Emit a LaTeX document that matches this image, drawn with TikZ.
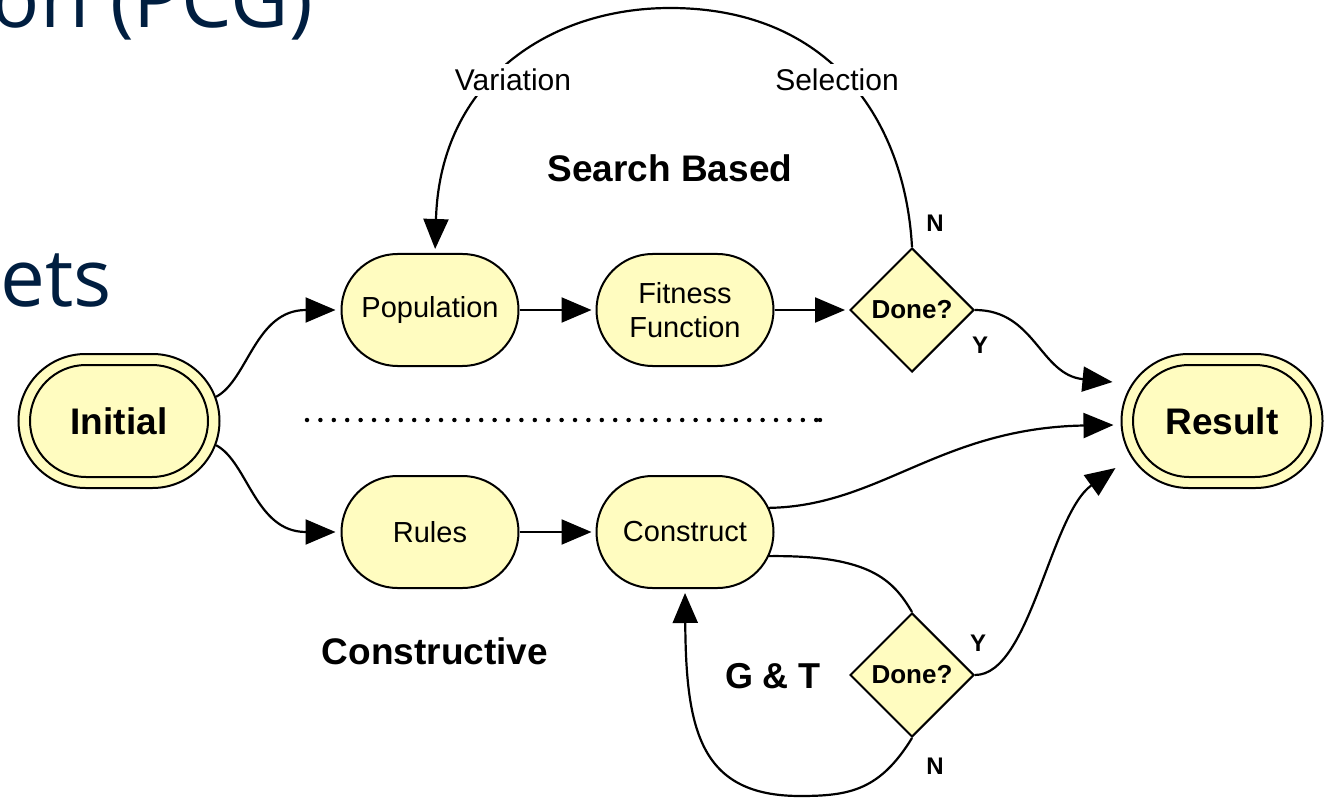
\documentclass[tikz,border=0pt]{standalone}
\usepackage{fontspec}
\setmainfont{Liberation Sans}
\newfontfamily\slidefont{Open Sans}
\usetikzlibrary{shapes.misc,shapes.geometric,arrows.meta}
\definecolor{boxfill}{RGB}{255,252,192}
\definecolor{navy}{RGB}{0,30,64}
\begin{document}
\begin{tikzpicture}[x=1pt,y=-1pt,
  every node/.style={font=\fontsize{29}{34}\selectfont},
  stad/.style={rounded rectangle, draw, line width=2pt, fill=boxfill,
    minimum width=177pt, minimum height=112pt, inner sep=0pt, align=center},
  outerstad/.style={rounded rectangle, draw, line width=2pt, fill=boxfill,
    minimum width=201pt, minimum height=134pt, inner sep=0pt},
  innerstad/.style={rounded rectangle, draw, line width=2pt, fill=boxfill,
    minimum width=178pt, minimum height=112pt, inner sep=0pt,
    font=\bfseries\fontsize{37}{42}\selectfont},
  decision/.style={diamond, draw, line width=2pt, fill=boxfill, aspect=1,
    minimum size=124pt, inner sep=0pt, font=\bfseries\fontsize{26}{30}\selectfont},
  conn/.style={line width=2.2pt},
  arr/.style={conn, -{Triangle[length=30pt,width=25pt]}},
  yn/.style={font=\bfseries\fontsize{24}{28}\selectfont, inner sep=0pt},
  heading/.style={font=\bfseries\fontsize{37}{42}\selectfont, inner sep=0pt},
  looplabel/.style={fill=white, inner sep=5pt, font=\fontsize{30}{34}\selectfont},
  slide/.style={text=navy, inner sep=0pt, font=\slidefont\fontsize{80}{90}\selectfont}
]
\useasboundingbox (0,0) rectangle (1335,799);

% slide fragments
\node[slide, anchor=base east] (title) at (313,28) {on (PCG)};
\node[slide, anchor=base west] (bullet) at (0,307) {ets};

% nodes
\node[outerstad] (init) at (119,421) {};
\node[innerstad] (initin) at (init.center) {Initial};
\node[outerstad] (result) at (1222,421) {};
\node[innerstad] (resultin) at (result.center) {Result};

\node[stad] (pop) at (430,310) {Population};
\node[stad] (fit) at (685,310) {Fitness\\Function};
\node[decision] (done1) at (912,310) {Done?};
\node[stad] (rules) at (430,532) {Rules};
\node[stad] (cons) at (685,532) {Construct};
\node[decision] (done2) at (912,675) {Done?};

% labels
\node[heading] (sb) at (670,168) {Search Based};
\node[heading] (ct) at (435,651) {Constructive};
\node[heading, font=\bfseries\fontsize{36}{40}\selectfont] (gt) at (773,676) {G \& T};
\node[yn] (n1) at (935,223) {N};
\node[yn] (y1) at (980,345) {Y};
\node[yn] (y2) at (978,643) {Y};
\node[yn] (n2) at (935,766) {N};

% dotted separator
\coordinate (dl) at (307,420);
\coordinate (dr) at (820,420);
\draw[line width=4.5pt, line cap=round, dash pattern=on 0pt off 13.4pt] (dl) -- (dr);
\fill (dr) circle (2.2pt);

% result targets
\coordinate (r1) at ([shift={(-8,-39)}]result.west);
\coordinate (r2) at ([shift={(-7,4)}]result.west);
\coordinate (r3) at ([shift={(-5,47)}]result.west);

% connectors
\draw[arr, shorten >=5pt] (init.14) .. controls (248,380) and (255,310) .. (pop.west);
\draw[arr, shorten >=5pt] (init.-14) .. controls (248,462) and (255,532) .. (rules.west);
\draw[arr, shorten >=4pt] (pop.east) -- (fit.west);
\draw[arr, shorten >=4pt] (fit.east) -- (done1.west);
\draw[arr, shorten >=4pt] (rules.east) -- (cons.west);

\coordinate (popin) at ([xshift=5pt]pop.north);
\draw[arr, shorten >=4pt] (done1.north) .. controls (905,120) and (830,8) .. (670,8)
   .. controls (550,8) and (440,80) .. (popin);
\node[looplabel] (var) at (513,80) {Variation};
\node[looplabel] (sel) at (837,80) {Selection};

\draw[arr] (done1.east) .. controls (1035,310) and (1040,375) .. (r1);
\draw[arr] (cons.16) .. controls (880,506) and (940,428) .. (r2);
\draw[conn] (cons.-16) .. controls (870,555) and (893,580) .. (done2.north);
\draw[arr] (done2.east) .. controls (1030,675) and (1050,515) .. (r3);
\draw[arr, shorten >=4pt] (done2.south) .. controls (880,790) and (850,796) .. (800,796)
   .. controls (700,796) and (686,730) .. (cons.south);
\end{tikzpicture}
\end{document}
